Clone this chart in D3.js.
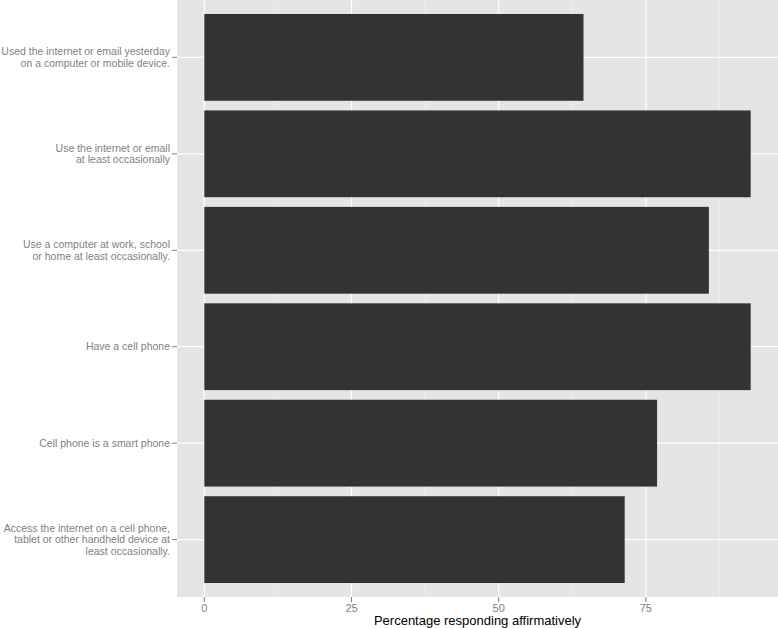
<!DOCTYPE html>
<html>
<head>
<meta charset="utf-8">
<script src="https://cdn.jsdelivr.net/npm/d3@7"></script>
<style>
  body { margin: 0; background: #fff; overflow: hidden; }
  svg { display: block; }
  text { font-family: "Liberation Sans", Arial, sans-serif; }
</style>
</head>
<body>
<svg width="778" height="628"></svg>
<script>
let categories = [
  ['Used the internet or email yesterday', 'on a computer or mobile device.'],
  ['Use the internet or email', 'at least occasionally'],
  ['Use a computer at work, school', 'or home at least occasionally.'],
  ['Have a cell phone'],
  ['Cell phone is a smart phone'],
  ['Access the internet on a cell phone,', 'tablet or other handheld device at', 'least occasionally.']
];
let values = [64.4, 92.8, 85.7, 92.8, 76.9, 71.4];
let xTicks = [0, 25, 50, 75];
let xMinor = [12.5, 37.5, 62.5, 87.5];

let svg = d3.select('svg');
let panel = { left: 177, right: 778, top: 0, bottom: 597 };

// ggplot-style 5% expansion on both sides
let maxV = d3.max(values);
let x = d3.scaleLinear()
    .domain([-0.05 * maxV, 1.05 * maxV])
    .range([panel.left, panel.right]);

let y = d3.scaleBand()
    .domain(d3.range(categories.length))
    .range([panel.top, panel.bottom])
    .paddingInner(0.1)
    .paddingOuter(0.145);

// panel background
svg.append('rect')
    .attr('x', panel.left)
    .attr('y', panel.top)
    .attr('width', panel.right - panel.left)
    .attr('height', panel.bottom - panel.top)
    .attr('fill', '#e5e5e5');

// minor grid
svg.append('g').selectAll('line')
    .data(xMinor)
  .enter().append('line')
    .attr('x1', (d) => x(d)).attr('x2', (d) => x(d))
    .attr('y1', panel.top).attr('y2', panel.bottom)
    .attr('stroke', '#f2f2f2')
    .attr('stroke-width', 0.6);

// major grid
svg.append('g').selectAll('line')
    .data(xTicks)
  .enter().append('line')
    .attr('x1', (d) => x(d)).attr('x2', (d) => x(d))
    .attr('y1', panel.top).attr('y2', panel.bottom)
    .attr('stroke', '#fff')
    .attr('stroke-width', 1.2);

svg.append('g').selectAll('line')
    .data(d3.range(categories.length))
  .enter().append('line')
    .attr('x1', panel.left).attr('x2', panel.right)
    .attr('y1', (d) => y(d) + y.bandwidth() / 2)
    .attr('y2', (d) => y(d) + y.bandwidth() / 2)
    .attr('stroke', '#fff')
    .attr('stroke-width', 1.2);

// bars
svg.append('g').selectAll('rect')
    .data(values)
  .enter().append('rect')
    .attr('x', x(0))
    .attr('y', (d, i) => y(i))
    .attr('width', (d) => x(d) - x(0))
    .attr('height', y.bandwidth())
    .attr('fill', '#333333');

// y axis
let yAxis = svg.append('g');
yAxis.selectAll('line')
    .data(d3.range(categories.length))
  .enter().append('line')
    .attr('x1', panel.left - 5).attr('x2', panel.left)
    .attr('y1', (d) => y(d) + y.bandwidth() / 2)
    .attr('y2', (d) => y(d) + y.bandwidth() / 2)
    .attr('stroke', '#7f7f7f');

let lineH = 11.5;
yAxis.selectAll('text')
    .data(categories)
  .enter().append('text')
    .attr('text-anchor', 'end')
    .attr('fill', '#7f7f7f')
    .style('font-size', '10.5px')
    .each(function (d, i) {
      let cy = y(i) + y.bandwidth() / 2;
      let t0 = cy - (d.length - 1) * lineH / 2;
      d3.select(this).selectAll('tspan')
          .data(d)
        .enter().append('tspan')
          .attr('x', panel.left - 7)
          .attr('y', (s, j) => t0 + j * lineH)
          .attr('dy', '0.35em')
          .text((s) => s);
    });

// x axis
let xAxis = svg.append('g');
xAxis.selectAll('line')
    .data(xTicks)
  .enter().append('line')
    .attr('x1', (d) => x(d)).attr('x2', (d) => x(d))
    .attr('y1', panel.bottom).attr('y2', panel.bottom + 5)
    .attr('stroke', '#7f7f7f');

xAxis.selectAll('text')
    .data(xTicks)
  .enter().append('text')
    .attr('x', (d) => x(d))
    .attr('y', panel.bottom + 15)
    .attr('text-anchor', 'middle')
    .attr('fill', '#7f7f7f')
    .style('font-size', '11px')
    .text((d) => d);

svg.append('text')
    .attr('x', (panel.left + panel.right) / 2)
    .attr('y', 625)
    .attr('text-anchor', 'middle')
    .attr('fill', '#000')
    .style('font-size', '13px')
    .text('Percentage responding affirmatively');
</script>
</body>
</html>
